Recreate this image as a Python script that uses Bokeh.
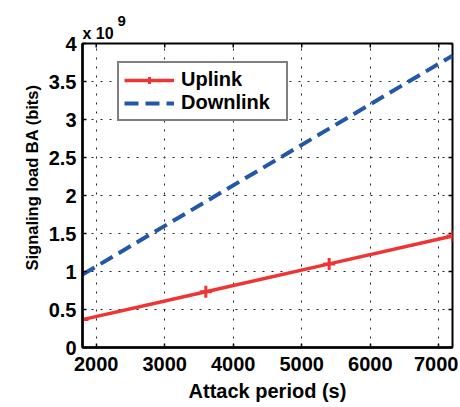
import math
from bokeh.plotting import figure
from bokeh.models import (Range1d, FixedTicker, Legend, LegendItem, Title)
from bokeh.embed import file_html
from bokeh.resources import INLINE

# ---- data (signaling load in units of 1e9 bits) ----
attack_period = [1800, 3600, 5400, 7200]
uplink = [0.367, 0.733, 1.10, 1.467]
downlink = [0.96, 1.92, 2.88, 3.84]

x_ticks = [2000, 3000, 4000, 5000, 6000, 7000]
y_ticks = [0, 0.5, 1, 1.5, 2, 2.5, 3, 3.5, 4]
y_tick_labels = ["0", "0.5", "1", "1.5", "2", "2.5", "3", "3.5", "4"]
x_min, x_max = 1800, 7200
y_min, y_max = 0, 4

FONT = "Liberation Sans"
RED = "#EF3434"
BLUE = "#2357A8"

W, H = 458, 407
p = figure(width=W, height=H, output_backend="svg", toolbar_location=None,
           x_range=Range1d(x_min, x_max), y_range=Range1d(y_min, y_max),
           min_border_left=82, min_border_right=6, min_border_top=43,
           min_border_bottom=60)
p.background_fill_color = "white"
p.border_fill_color = "white"
p.outline_line_color = "black"
p.outline_line_width = 2

# grids
for g in (p.xgrid, p.ygrid):
    g.grid_line_color = "#222222"
    g.grid_line_dash = "2 7"
    g.grid_line_width = 1
p.xgrid.ticker = FixedTicker(ticks=x_ticks)
p.ygrid.ticker = FixedTicker(ticks=y_ticks)

# main axes
for ax in (p.xaxis[0], p.yaxis[0]):
    ax.axis_line_width = 2.5
    ax.axis_line_color = "black"
    ax.major_tick_in = 4
    ax.major_tick_out = 0
    ax.minor_tick_line_color = None
    ax.major_tick_line_width = 1.5
    ax.major_label_text_font = FONT
    ax.major_label_text_font_style = "bold"
    ax.major_label_text_font_size = "20px"
    ax.major_label_text_color = "black"
p.xaxis[0].ticker = FixedTicker(ticks=x_ticks)
p.xaxis[0].major_label_standoff = 9
p.xaxis[0].axis_label = "Attack period (s)"
p.xaxis[0].axis_label_text_font = FONT
p.xaxis[0].axis_label_text_font_style = "bold"
p.xaxis[0].axis_label_text_font_size = "20px"
p.xaxis[0].axis_label_text_color = "black"
p.xaxis[0].axis_label_standoff = 6
p.yaxis[0].ticker = FixedTicker(ticks=y_ticks)
p.yaxis[0].major_label_overrides = {t: l for t, l in zip(y_ticks, y_tick_labels)}
p.yaxis[0].major_label_standoff = 6

# box ticks on top and right (inward), drawn as clipped dash markers
p.scatter(x_ticks, [y_max] * len(x_ticks), marker="dash", size=8, angle=math.pi / 2,
          line_color="black", line_width=1.5)
p.scatter([x_max] * len(y_ticks), y_ticks, marker="dash", size=8,
          line_color="black", line_width=1.5)

# series
r_up = p.line(attack_period, uplink, line_color=RED, line_width=3.5)
r_up_m = p.scatter(attack_period, uplink, marker="cross", size=12,
                   line_color=RED, line_width=3)
r_down = p.line(attack_period, downlink, line_color=BLUE, line_width=4,
                line_dash="14 7")

legend = Legend(items=[LegendItem(label="Uplink", renderers=[r_up, r_up_m]),
                       LegendItem(label="Downlink", renderers=[r_down])],
                location=(35, 226))
legend.label_text_font = FONT
legend.label_text_font_style = "bold"
legend.label_text_font_size = "20px"
legend.label_text_color = "black"
legend.glyph_width = 50
legend.glyph_height = 18
legend.label_height = 18
legend.label_width = 100
legend.label_standoff = 7
legend.padding = 5
legend.spacing = 0
legend.margin = 0
legend.border_line_color = "black"
legend.border_line_width = 2
legend.background_fill_color = "white"
legend.background_fill_alpha = 1
p.add_layout(legend, "center")

# y-axis title (starts above the frame bottom, as in the original)
ytitle = Title(text="Signaling load BA (bits)", align="left", offset=77,
               text_font=FONT, text_font_style="bold", text_font_size="16.5px",
               text_color="black", standoff=9)
p.add_layout(ytitle, "left")

# exponent note "x 10^9"
base_title = Title(text="x 10", align="left", offset=0,
                   text_font=FONT, text_font_style="bold", text_font_size="16px",
                   text_color="black", standoff=4)
p.add_layout(base_title, "above")
exp_title = Title(text="9", align="left", offset=35,
                  text_font=FONT, text_font_style="bold", text_font_size="15px",
                  text_color="black", standoff=-10)
p.add_layout(exp_title, "above")

open("out.html", "w").write(file_html(p, INLINE))
